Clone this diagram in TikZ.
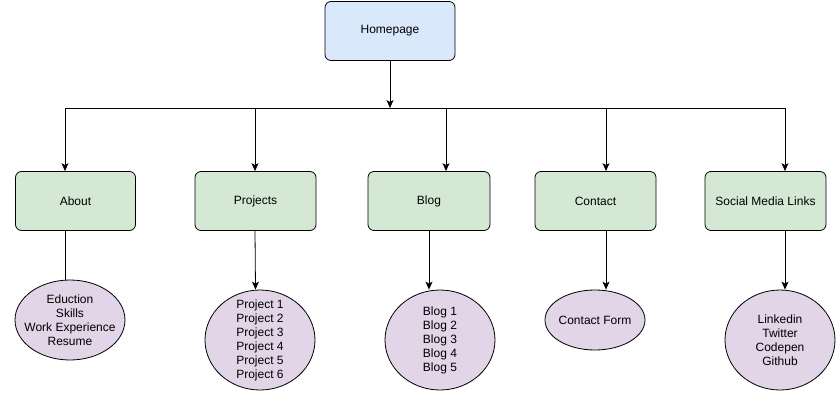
\documentclass[tikz,border=0pt]{standalone}
\usepackage{fontspec}
\setmainfont{Liberation Sans}
\usetikzlibrary{arrows.meta,positioning,shapes.geometric}
\definecolor{homeblue}{HTML}{DAE8FC}
\definecolor{pagegreen}{HTML}{D5E8D4}
\definecolor{itempurple}{HTML}{E1D5E7}

\begin{document}
\begin{tikzpicture}[x=1pt,y=-1pt,>={Stealth[length=8pt,width=7pt,inset=2pt]},line width=0.8pt,
 font=\fontsize{12}{14}\selectfont,
 page/.style={draw,rounded corners=6pt,fill=pagegreen,minimum width=120pt,minimum height=59pt},
 item/.style={draw,ellipse,fill=itempurple,align=center,inner sep=-8pt,minimum width=110pt,minimum height=100pt}]
 \useasboundingbox (0,0) rectangle (836,407);
 % top level
 \node[page,fill=homeblue,minimum width=130pt] (home) at (390,31) {Homepage};
 \coordinate (b1) at (65,108);
 \coordinate (b2) at (255,108);
 \coordinate (b3) at (446,108);
 \coordinate (b4) at (606,108);
 \coordinate (b5) at (785,108);
 % pages
 \node[page] (about) at (75.5,201) {About};
 \node[page,minimum width=121pt] (projects) at (255.5,201) {Projects};
 \node[page,minimum width=122pt] (blog) at (429,201) {Blog};
 \node[page,minimum width=121pt] (contact) at (595.5,201) {Contact};
 \node[page,minimum width=121pt] (social) at (765.5,201) {Social Media Links};
 % contents
 \node[item,minimum height=80pt] (aboutl) at (70,320) {Eduction\\Skills\\Work Experience\\Resume};
 \node[item] (projectsl) at (260,340) {Project 1\\Project 2\\Project 3\\Project 4\\Project 5\\Project 6};
 \node[item] (blogl) at (440,340) {Blog 1\\Blog 2\\Blog 3\\Blog 4\\Blog 5};
 \node[item,minimum width=100pt,minimum height=60pt] (contactl) at (595,320) {Contact Form};
 \node[item] (sociall) at (780,340) {Linkedin\\Twitter\\Codepen\\Github};
 % connectors
 \draw[->] (home.south) -- (home.south |- b1);
 \draw (b1) -- (b5);
 \draw[->] (b1) -- (b1 |- about.north);
 \draw[->] (b2) -- (b2 |- projects.north);
 \draw[->] (b3) -- (b3 |- blog.north);
 \draw[->] (b4) -- (b4 |- contact.north);
 \draw[->] (b5) -- (b5 |- social.north);
 \draw ([xshift=-10.5pt]about.south) -- ++(0,49);
 \draw[->] ([xshift=-0.5pt]projects.south) -- (projects.south |- projectsl.north);
 \draw[->] (blog.south) -- (blog.south |- blogl.north);
 \draw[->] ([xshift=10.5pt]contact.south) -- ([xshift=10.5pt]contact.south |- contactl.north);
 \draw[->] ([xshift=19.5pt]social.south) -- ([xshift=19.5pt]social.south |- sociall.north);
\end{tikzpicture}
\end{document}
